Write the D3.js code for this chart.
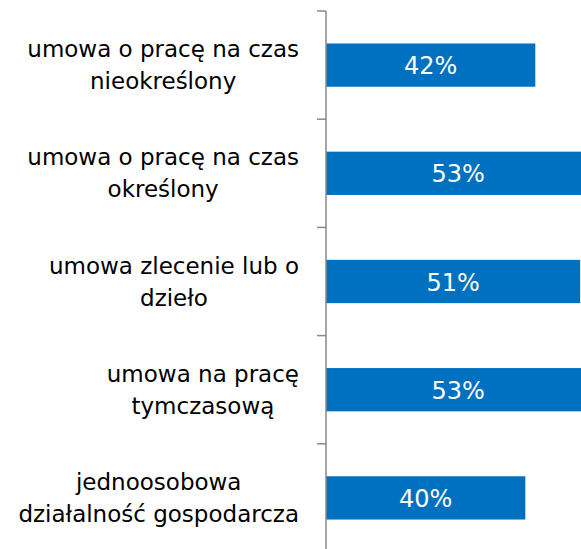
<!DOCTYPE html>
<html>
<head>
<meta charset="utf-8">
<script src="https://cdn.jsdelivr.net/npm/d3@7"></script>
<style>
  body { margin: 0; background: #fff; }
  svg { display: block; }
</style>
</head>
<body>
<script>
var categories = [
  ['umowa o pracę na czas', 'nieokreślony'],
  ['umowa o pracę na czas', 'określony'],
  ['umowa zlecenie lub o', 'dzieło'],
  ['umowa na pracę', 'tymczasową'],
  ['jednoosobowa', 'działalność gospodarcza']
];
var values = [42, 53, 51, 53, 40];

var width = 581, height = 549;
var x0 = 326, plotTop = 11, plotBottom = 552;

var svg = d3.select('body')
  .append('svg')
  .attr('width', width)
  .attr('height', height);

var x = d3.scaleLinear()
  .domain([0, 60])
  .range([x0, x0 + 299]);

var y = d3.scaleBand()
  .domain(d3.range(categories.length))
  .range([plotTop, plotBottom])
  .paddingInner(0.6)
  .paddingOuter(0.3);

// bars
svg.selectAll('rect.bar')
  .data(values)
  .enter()
  .append('rect')
  .attr('class', 'bar')
  .attr('x', x(0))
  .attr('y', function(d, i) { return y(i); })
  .attr('width', function(d) { return x(d) - x(0); })
  .attr('height', y.bandwidth())
  .attr('fill', '#0070c0');

// value labels
svg.selectAll('text.val')
  .data(values)
  .enter()
  .append('text')
  .attr('class', 'val')
  .attr('x', function(d) { return (x(0) + x(d)) / 2; })
  .attr('y', function(d, i) { return y(i) + y.bandwidth() / 2; })
  .attr('dy', '0.38em')
  .attr('text-anchor', 'middle')
  .attr('fill', '#fff')
  .style('font-family', 'DejaVu Sans')
  .style('font-size', '24px')
  .text(function(d) { return d + '%'; });

// axis: line with ticks at band boundaries
var bounds = d3.range(categories.length + 1).map(function(i) {
  return plotTop + i * (plotBottom - plotTop) / categories.length;
});
svg.append('line')
  .attr('x1', x0).attr('x2', x0)
  .attr('y1', plotTop).attr('y2', plotBottom)
  .attr('stroke', '#898989')
  .attr('stroke-width', 1.5);
svg.selectAll('line.tick')
  .data(bounds)
  .enter()
  .append('line')
  .attr('class', 'tick')
  .attr('x1', x0 - 9).attr('x2', x0)
  .attr('y1', function(d) { return d; })
  .attr('y2', function(d) { return d; })
  .attr('stroke', '#898989')
  .attr('stroke-width', 1.5);

// category labels, two lines centred, block right-aligned
var labelRight = 299;
var groups = svg.selectAll('g.cat')
  .data(categories)
  .enter()
  .append('g')
  .attr('class', 'cat');

groups.each(function(lines, i) {
  var g = d3.select(this);
  var cy = (bounds[i] + bounds[i + 1]) / 2;
  var texts = g.selectAll('text')
    .data(lines)
    .enter()
    .append('text')
    .attr('y', function(d, j) { return cy - 8 + j * 32; })
    .attr('text-anchor', 'middle')
    .attr('fill', '#000')
    .style('font-family', 'DejaVu Sans')
    .style('font-size', '23px')
    .text(function(d) { return d; });
  var maxW = 0;
  texts.each(function() { maxW = Math.max(maxW, this.getComputedTextLength()); });
  texts.attr('x', labelRight - maxW / 2);
});
</script>
</body>
</html>
